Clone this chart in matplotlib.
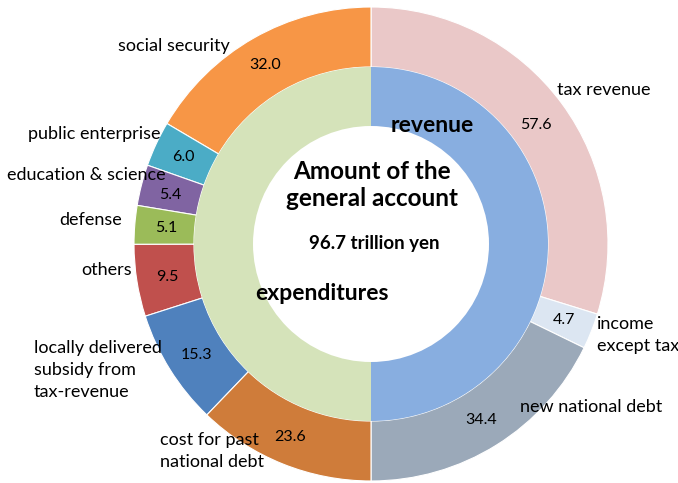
import numpy as np
import matplotlib.pyplot as plt

plt.rcParams['font.family'] = ['Lato', 'DejaVu Sans']

W, H = 678, 483

# revenue side (clockwise from the top)
rev_labels = ['tax revenue', 'income\nexcept tax', 'new national debt']
rev_values = [57.6, 4.7, 34.4]
rev_colors = ['#EAC8C8', '#DCE6F2', '#9BA9B9']

# expenditure side (counter-clockwise from the top)
exp_labels = ['social security', 'public enterprise', 'education & science',
              'defense', 'others', 'locally delivered\nsubsidy from\ntax-revenue',
              'cost for past\nnational debt']
exp_values = [32.0, 6.0, 5.4, 5.1, 9.5, 15.3, 23.6]
exp_colors = ['#F79646', '#4BACC6', '#8064A2', '#9BBB59', '#C0504D',
              '#4F81BD', '#CF7C3A']

inner_labels = ['revenue', 'expenditures']
inner_colors = ['#88AEE0', '#D5E3BA']

cx, cy = 371, H - 244
r_out, r_mid, r_in = 237, 177, 118

fig = plt.figure(figsize=(W / 100, H / 100), dpi=100)
ax = fig.add_axes([0, 0, 1, 1])

wp = dict(width=r_out - r_mid, edgecolor='white', linewidth=0.8)
ax.pie(np.array(rev_values) / (2 * sum(rev_values)), normalize=False,
       startangle=90, counterclock=False, colors=rev_colors,
       radius=r_out, center=(cx, cy), wedgeprops=wp, frame=True)
ax.pie(np.array(exp_values) / (2 * sum(exp_values)), normalize=False,
       startangle=90, counterclock=True, colors=exp_colors,
       radius=r_out, center=(cx, cy), wedgeprops=wp, frame=True)
ax.pie([0.5, 0.5], startangle=90, counterclock=False, colors=inner_colors,
       radius=r_mid, center=(cx, cy), frame=True,
       wedgeprops=dict(width=r_mid - r_in, edgecolor='none'))
ax.set_xlim(0, W)
ax.set_ylim(0, H)
ax.set_aspect('equal')
ax.axis('off')


def txt(px, py, s, **kw):
    kw.setdefault('fontsize', 13)
    kw.setdefault('va', 'center')
    kw.setdefault('linespacing', 1.45)
    ax.text(px, H - py, s, **kw)


# value labels on the outer ring
rev_pos = [(536, 125), (564, 320), (481, 420)]
exp_pos = [(265, 65), (183, 157), (170, 195), (166, 228), (167, 277),
           (196, 355), (290, 437)]
for (px, py), v in zip(rev_pos, rev_values):
    txt(px, py, f'{v:.1f}', ha='center', fontsize=11.5)
for (px, py), v in zip(exp_pos, exp_values):
    txt(px, py, f'{v:.1f}', ha='center', fontsize=11.5)

# category names outside the ring
txt(557, 90, rev_labels[0], ha='left')
txt(597, 335, rev_labels[1], ha='left')
txt(520, 407, rev_labels[2], ha='left')

txt(230, 46, exp_labels[0], ha='right')
txt(161, 134, exp_labels[1], ha='right')
txt(166, 175, exp_labels[2], ha='right')
txt(122, 220, exp_labels[3], ha='right')
txt(132, 270, exp_labels[4], ha='right')
txt(34, 370, exp_labels[5], ha='left')
txt(160, 451, exp_labels[6], ha='left')

# centre titles
txt(432, 125, inner_labels[0], ha='center', fontsize=16.5, fontweight='bold')
txt(322, 293, inner_labels[1], ha='center', fontsize=16.5, fontweight='bold')
txt(372, 185, 'Amount of the\ngeneral account', ha='center', fontsize=17.5,
    fontweight='bold', linespacing=1.25)
txt(374, 243, '96.7 trillion yen', ha='center', fontsize=13.5,
    fontweight='bold')

fig.savefig('out.png', dpi=100)
